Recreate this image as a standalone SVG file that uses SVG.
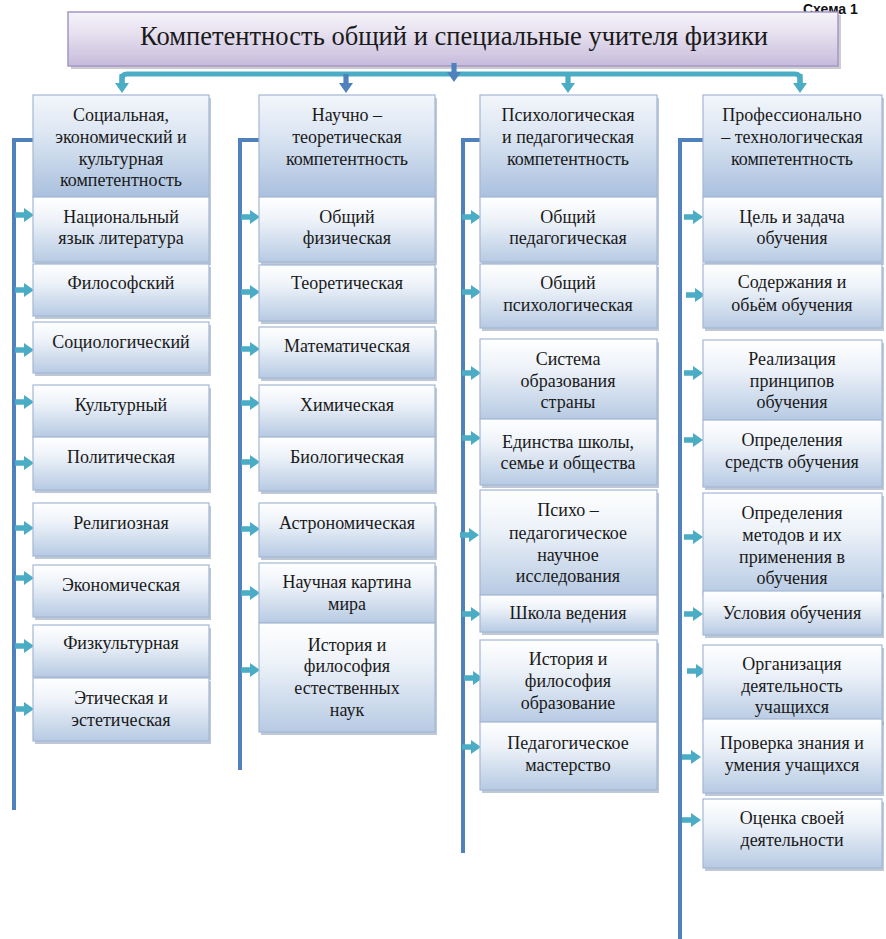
<svg xmlns="http://www.w3.org/2000/svg" xmlns:xlink="http://www.w3.org/1999/xlink" width="886" height="939" viewBox="0 0 886 939">
<defs>
<linearGradient id="gb" x1="0" y1="0" x2="0" y2="1"><stop offset="0" stop-color="#ffffff"/><stop offset="0.35" stop-color="#eef3f9"/><stop offset="1" stop-color="#b7cae3"/></linearGradient>
<linearGradient id="gh" x1="0" y1="0" x2="0" y2="1"><stop offset="0" stop-color="#f3f6fb"/><stop offset="0.4" stop-color="#dbe5f2"/><stop offset="1" stop-color="#a9c0de"/></linearGradient>
<linearGradient id="gt" x1="0" y1="0" x2="0" y2="1"><stop offset="0" stop-color="#f6f3f9"/><stop offset="0.4" stop-color="#e6e0ef"/><stop offset="1" stop-color="#c6bbdb"/></linearGradient>
<path id="ar" d="M0,-2.8 H9 V-7 L19,0 L9,7 V2.8 H0 Z" fill="#4bacc6"/>
<path id="ad" d="M-2.6,0 V9 H-7 L0,19 L7,9 H2.6 V0 Z"/>
<style>
.bx{fill:url(#gb);stroke:#a4b8d4;stroke-width:1.2}
.hd{fill:url(#gh);stroke:#a4b8d4;stroke-width:1.2}
.sh{fill:#8a9bb4;opacity:.55}
.t{font-family:'Liberation Serif','Times New Roman',Tinos,'Noto Serif','DejaVu Serif',serif;font-size:18px;fill:#1a1a1a;text-anchor:middle}
.tt{font-family:'Liberation Serif','Times New Roman',Tinos,'Noto Serif','DejaVu Serif',serif;font-size:27px;fill:#1a1a1a;text-anchor:middle}
.ln{stroke:#4f81bd;stroke-width:4;fill:none}
</style>
</defs>
<rect width="886" height="939" fill="#ffffff"/>
<text x="803" y="14" font-family="'Liberation Sans', Arial, sans-serif" font-size="14" font-weight="bold" fill="#111">Схема 1</text>

<g id="title">
<rect x="71" y="15" width="770" height="54" fill="#9a9aa6" opacity=".5"/>
<rect x="68" y="12" width="770" height="54" fill="url(#gt)" stroke="#a597c4" stroke-width="1.5"/>
<text class="tt" x="454" y="45" textLength="628" lengthAdjust="spacingAndGlyphs">Компетентность общий и специальные учителя физики</text>
</g>

<g id="connectors">
<path d="M122,84 V79 Q122,74 127,74 H795 Q800,74 800,79 V84" stroke="#4bacc6" stroke-width="5" fill="none"/>
<use href="#ad" x="122" y="74" fill="#4bacc6"/>
<use href="#ad" x="346" y="74" fill="#4f81bd"/>
<use href="#ad" x="568" y="74" fill="#4bacc6"/>
<use href="#ad" x="800" y="74" fill="#4bacc6"/>
<use href="#ad" x="454" y="63" fill="#4f81bd"/>
<path class="ln" d="M33,140 H14 V810"/>
<path class="ln" d="M259,140 H240 V770"/>
<path class="ln" d="M480,140 H463 V853"/>
<path class="ln" d="M703,140 H680 V939"/>
<use href="#ar" x="15" y="215"/><use href="#ar" x="15" y="290"/><use href="#ar" x="15" y="350"/><use href="#ar" x="15" y="402"/><use href="#ar" x="15" y="463"/><use href="#ar" x="15" y="528"/><use href="#ar" x="15" y="578"/><use href="#ar" x="15" y="646"/><use href="#ar" x="15" y="709"/>
<use href="#ar" x="241" y="217"/><use href="#ar" x="241" y="292"/><use href="#ar" x="241" y="349"/><use href="#ar" x="241" y="403"/><use href="#ar" x="241" y="462"/><use href="#ar" x="241" y="529"/><use href="#ar" x="241" y="593"/><use href="#ar" x="241" y="670"/>
<use href="#ar" x="462" y="217"/><use href="#ar" x="462" y="292"/><use href="#ar" x="462" y="373"/><use href="#ar" x="462" y="438"/><use href="#ar" x="460" y="535"/><use href="#ar" x="462" y="614"/><use href="#ar" x="464" y="678"/><use href="#ar" x="462" y="747"/>
<use href="#ar" x="684" y="217"/><use href="#ar" x="686" y="295"/><use href="#ar" x="684" y="373"/><use href="#ar" x="684" y="440"/><use href="#ar" x="684" y="537"/><use href="#ar" x="684" y="614"/><use href="#ar" x="687" y="671"/><use href="#ar" x="682" y="757"/><use href="#ar" x="682" y="820"/>
</g>

<!-- Column 1 -->
<g id="c1h"><rect class="sh" x="35" y="98" width="176" height="102"/><rect class="hd" x="33" y="95" width="176" height="102"/>
<text class="t"><tspan x="121" y="121">Социальная,</tspan><tspan x="121" y="143">экономический и</tspan><tspan x="121" y="165">культурная</tspan><tspan x="121" y="186">компетентность</tspan></text></g>
<g id="c1n1"><rect class="sh" x="35" y="200" width="176" height="65"/><rect class="bx" x="33" y="197" width="176" height="65"/>
<text class="t"><tspan x="121" y="223">Национальный</tspan><tspan x="121" y="244">язык литература</tspan></text></g>
<g id="c1n2"><rect class="sh" x="35" y="267" width="176" height="52"/><rect class="bx" x="33" y="264" width="176" height="52"/>
<text class="t" x="121" y="289">Философский</text></g>
<g id="c1n3"><rect class="sh" x="35" y="325" width="176" height="51"/><rect class="bx" x="33" y="322" width="176" height="51"/>
<text class="t" x="121" y="348">Социологический</text></g>
<g id="c1n4"><rect class="sh" x="35" y="388" width="176" height="52"/><rect class="bx" x="33" y="385" width="176" height="52"/>
<text class="t" x="121" y="411">Культурный</text></g>
<g id="c1n5"><rect class="sh" x="35" y="440" width="176" height="53"/><rect class="bx" x="33" y="437" width="176" height="53"/>
<text class="t" x="121" y="463">Политическая</text></g>
<g id="c1n6"><rect class="sh" x="35" y="506" width="176" height="53"/><rect class="bx" x="33" y="503" width="176" height="53"/>
<text class="t" x="121" y="529">Религиозная</text></g>
<g id="c1n7"><rect class="sh" x="35" y="568" width="176" height="52"/><rect class="bx" x="33" y="565" width="176" height="52"/>
<text class="t" x="121" y="591">Экономическая</text></g>
<g id="c1n8"><rect class="sh" x="35" y="628" width="176" height="52"/><rect class="bx" x="33" y="625" width="176" height="52"/>
<text class="t" x="121" y="649">Физкультурная</text></g>
<g id="c1n9"><rect class="sh" x="35" y="681" width="176" height="63"/><rect class="bx" x="33" y="678" width="176" height="63"/>
<text class="t"><tspan x="121" y="704">Этическая и</tspan><tspan x="121" y="726">эстетическая</tspan></text></g>

<!-- Column 2 -->
<g id="c2h"><rect class="sh" x="261" y="98" width="176" height="102"/><rect class="hd" x="259" y="95" width="176" height="102"/>
<text class="t"><tspan x="347" y="121">Научно –</tspan><tspan x="347" y="143">теоретическая</tspan><tspan x="347" y="165">компетентность</tspan></text></g>
<g id="c2n1"><rect class="sh" x="261" y="200" width="176" height="65"/><rect class="bx" x="259" y="197" width="176" height="65"/>
<text class="t"><tspan x="347" y="223">Общий</tspan><tspan x="347" y="244">физическая</tspan></text></g>
<g id="c2n2"><rect class="sh" x="261" y="268" width="176" height="56"/><rect class="bx" x="259" y="265" width="176" height="56"/>
<text class="t" x="347" y="289">Теоретическая</text></g>
<g id="c2n3"><rect class="sh" x="261" y="330" width="176" height="51"/><rect class="bx" x="259" y="327" width="176" height="51"/>
<text class="t" x="347" y="352">Математическая</text></g>
<g id="c2n4"><rect class="sh" x="261" y="388" width="176" height="52"/><rect class="bx" x="259" y="385" width="176" height="52"/>
<text class="t" x="347" y="411">Химическая</text></g>
<g id="c2n5"><rect class="sh" x="261" y="440" width="176" height="54"/><rect class="bx" x="259" y="437" width="176" height="54"/>
<text class="t" x="347" y="463">Биологическая</text></g>
<g id="c2n6"><rect class="sh" x="261" y="506" width="176" height="54"/><rect class="bx" x="259" y="503" width="176" height="54"/>
<text class="t" x="347" y="529">Астрономическая</text></g>
<g id="c2n7"><rect class="sh" x="261" y="566" width="176" height="60"/><rect class="bx" x="259" y="563" width="176" height="60"/>
<text class="t"><tspan x="347" y="588">Научная картина</tspan><tspan x="347" y="610">мира</tspan></text></g>
<g id="c2n8"><rect class="sh" x="261" y="626" width="176" height="109"/><rect class="bx" x="259" y="623" width="176" height="109"/>
<text class="t"><tspan x="347" y="651">История и</tspan><tspan x="347" y="672">философия</tspan><tspan x="347" y="694">естественных</tspan><tspan x="347" y="716">наук</tspan></text></g>

<!-- Column 3 -->
<g id="c3h"><rect class="sh" x="482" y="98" width="177" height="102"/><rect class="hd" x="480" y="95" width="177" height="102"/>
<text class="t"><tspan x="568" y="121">Психологическая</tspan><tspan x="568" y="143">и педагогическая</tspan><tspan x="568" y="165">компетентность</tspan></text></g>
<g id="c3n1"><rect class="sh" x="482" y="200" width="177" height="65"/><rect class="bx" x="480" y="197" width="177" height="65"/>
<text class="t"><tspan x="568" y="223">Общий</tspan><tspan x="568" y="244">педагогическая</tspan></text></g>
<g id="c3n2"><rect class="sh" x="482" y="267" width="177" height="64"/><rect class="bx" x="480" y="264" width="177" height="64"/>
<text class="t"><tspan x="568" y="289">Общий</tspan><tspan x="568" y="311">психологическая</tspan></text></g>
<g id="c3n3"><rect class="sh" x="482" y="342" width="177" height="80"/><rect class="bx" x="480" y="339" width="177" height="80"/>
<text class="t"><tspan x="568" y="365">Система</tspan><tspan x="568" y="387">образования</tspan><tspan x="568" y="408">страны</tspan></text></g>
<g id="c3n4"><rect class="sh" x="482" y="422" width="177" height="66"/><rect class="bx" x="480" y="419" width="177" height="66"/>
<text class="t"><tspan x="568" y="448">Единства школы,</tspan><tspan x="568" y="469">семье и общества</tspan></text></g>
<g id="c3n5"><rect class="sh" x="482" y="493" width="177" height="105"/><rect class="bx" x="480" y="490" width="177" height="105"/>
<text class="t"><tspan x="568" y="516">Психо –</tspan><tspan x="568" y="539">педагогическое</tspan><tspan x="568" y="561">научное</tspan><tspan x="568" y="582">исследования</tspan></text></g>
<g id="c3n6"><rect class="sh" x="482" y="598" width="177" height="37"/><rect class="bx" x="480" y="595" width="177" height="37"/>
<text class="t" x="568" y="619">Школа ведения</text></g>
<g id="c3n7"><rect class="sh" x="482" y="643" width="177" height="82"/><rect class="bx" x="480" y="640" width="177" height="82"/>
<text class="t"><tspan x="568" y="665">История и</tspan><tspan x="568" y="687">философия</tspan><tspan x="568" y="709">образование</tspan></text></g>
<g id="c3n8"><rect class="sh" x="482" y="725" width="177" height="68"/><rect class="bx" x="480" y="722" width="177" height="68"/>
<text class="t"><tspan x="568" y="749">Педагогическое</tspan><tspan x="568" y="771">мастерство</tspan></text></g>

<!-- Column 4 -->
<g id="c4h"><rect class="sh" x="705" y="98" width="179" height="102"/><rect class="hd" x="703" y="95" width="179" height="102"/>
<text class="t"><tspan x="792" y="121">Профессионально</tspan><tspan x="792" y="143">– технологическая</tspan><tspan x="792" y="165">компетентность</tspan></text></g>
<g id="c4n1"><rect class="sh" x="705" y="200" width="179" height="65"/><rect class="bx" x="703" y="197" width="179" height="65"/>
<text class="t"><tspan x="792" y="223">Цель и задача</tspan><tspan x="792" y="244">обучения</tspan></text></g>
<g id="c4n2"><rect class="sh" x="705" y="267" width="179" height="64"/><rect class="bx" x="703" y="264" width="179" height="64"/>
<text class="t"><tspan x="792" y="288">Содержания и</tspan><tspan x="792" y="311">обьём обучения</tspan></text></g>
<g id="c4n3"><rect class="sh" x="705" y="343" width="179" height="80"/><rect class="bx" x="703" y="340" width="179" height="80"/>
<text class="t"><tspan x="792" y="365">Реализация</tspan><tspan x="792" y="387">принципов</tspan><tspan x="792" y="408">обучения</tspan></text></g>
<g id="c4n4"><rect class="sh" x="705" y="423" width="179" height="67"/><rect class="bx" x="703" y="420" width="179" height="67"/>
<text class="t"><tspan x="792" y="446">Определения</tspan><tspan x="792" y="468">средств обучения</tspan></text></g>
<g id="c4n5"><rect class="sh" x="705" y="496" width="179" height="102"/><rect class="bx" x="703" y="493" width="179" height="102"/>
<text class="t"><tspan x="792" y="519">Определения</tspan><tspan x="792" y="541">методов и  их</tspan><tspan x="792" y="563">применения в</tspan><tspan x="792" y="584">обучения</tspan></text></g>
<g id="c4n6"><rect class="sh" x="705" y="594" width="179" height="44"/><rect class="bx" x="703" y="591" width="179" height="44"/>
<text class="t" x="792" y="619">Условия обучения</text></g>
<g id="c4n7"><rect class="sh" x="705" y="648" width="179" height="77"/><rect class="bx" x="703" y="645" width="179" height="77"/>
<text class="t"><tspan x="792" y="670">Организация</tspan><tspan x="792" y="692">деятельность</tspan><tspan x="792" y="713">учащихся</tspan></text></g>
<g id="c4n8"><rect class="sh" x="705" y="722" width="179" height="74"/><rect class="bx" x="703" y="719" width="179" height="74"/>
<text class="t"><tspan x="792" y="749">Проверка знания и</tspan><tspan x="792" y="771">умения учащихся</tspan></text></g>
<g id="c4n9"><rect class="sh" x="705" y="802" width="179" height="69"/><rect class="bx" x="703" y="799" width="179" height="69"/>
<text class="t"><tspan x="792" y="824">Оценка своей</tspan><tspan x="792" y="846">деятельности</tspan></text></g>
</svg>
